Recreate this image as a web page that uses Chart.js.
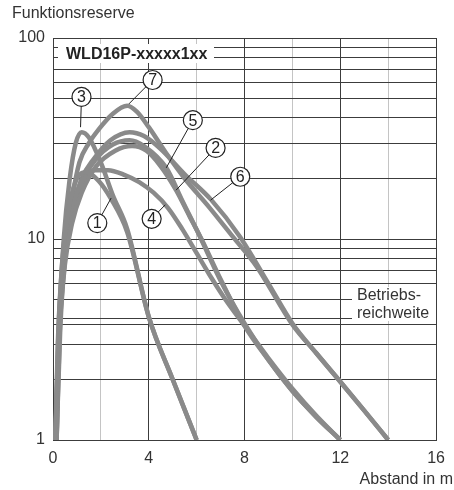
<!DOCTYPE html>
<html>
<head>
<meta charset="utf-8">
<script src="https://cdn.jsdelivr.net/npm/chart.js@4/dist/chart.umd.min.js"></script>
<style>
  html, body { margin: 0; padding: 0; background: #fff; }
  #c { display: block; }
</style>
</head>
<body>
<canvas id="c" width="454" height="490" style="width:454px;height:490px"></canvas>
<script>
// ── Daten : Funktionsreserve über Abstand ──
const xTicks = [0, 2, 4, 6, 8, 10, 12, 14, 16];
const xLabels = [0, 4, 8, 12, 16];
const yGrid = [1, 2, 3, 3.75, 4, 5, 6, 7, 8, 9, 10, 20, 30, 40, 50, 60, 70, 80, 90, 100];
const yLabels = [1, 10, 100];

const curve1X = [0.1, 0.2, 0.4, 0.7, 1.0, 1.4, 1.9, 2.4, 3.1, 4.0, 5.0, 6.0];
const curve1Y = [1, 3, 8, 15, 20, 21.5, 19.5, 16, 10.8, 4.1, 2.0, 1];

const curve2X = [0.1, 0.25, 0.5, 0.8, 1.2, 1.8, 2.6, 3.3, 3.9, 4.5, 5.14, 5.7, 6.2, 7.0, 8.0, 9.0, 10.0, 11.0, 12.0];
const curve2Y = [1, 3.2, 7.5, 12, 17, 23, 27.5, 29, 27.5, 23, 17.5, 13, 10, 6.3, 3.7, 2.5, 1.75, 1.3, 1];

const curve3X = [0.15, 0.25, 0.45, 0.7, 0.95, 1.2, 1.5, 2.0, 2.5, 3.1, 4.0, 5.0, 6.0];
const curve3Y = [1, 3.5, 10, 20, 30, 34, 32, 24, 16.5, 11.2, 4.1, 2.0, 1];

const curve4X = [0.1, 0.25, 0.5, 0.8, 1.2, 1.7, 2.3, 3.0, 3.6, 4.2, 4.8, 5.4, 6.0, 6.6, 7.2, 8.0, 9.0, 10.0, 11.0, 12.0];
const curve4Y = [1, 4, 9, 14, 19, 22, 22, 20.8, 19.2, 17, 14.3, 11.2, 8.5, 6.45, 5.0, 3.7, 2.55, 1.8, 1.32, 1];

const curve5X = [0.1, 0.25, 0.5, 0.8, 1.2, 1.8, 2.5, 3.2, 3.8, 4.73, 5.4, 6.1, 7.0, 8.0, 9.0, 10.0, 11.0, 12.0];
const curve5Y = [1, 3.5, 8, 13, 19, 25, 29.5, 31, 29, 22.6, 15.5, 10.5, 6.2, 3.8, 2.5, 1.75, 1.3, 1];

const curve6X = [0.15, 0.3, 0.5, 0.8, 1.2, 1.7, 2.4, 3.2, 3.8, 4.5, 5.5, 6.6, 7.8, 9.0, 10.0, 11.0, 12.0, 13.0, 14.0];
const curve6Y = [1, 3.5, 8, 14, 20, 25, 31, 34, 32.5, 28, 21, 15.7, 10.3, 6, 3.8, 2.7, 1.95, 1.4, 1];

const curve7X = [0.15, 0.3, 0.5, 0.8, 1.1, 1.5, 1.9, 2.5, 3.1, 3.5, 4.0, 4.7, 5.5, 6.5, 7.5, 8.5, 10.0, 11.0, 12.0, 13.0, 14.0];
const curve7Y = [1, 4, 9, 16, 24, 30, 35, 42, 46, 43, 36, 27, 20, 14.5, 10.3, 7.3, 3.75, 2.7, 1.95, 1.4, 1];

// Beschriftungen ①..⑦ (Kreis + Zielpunkt auf der Kurve, in Daten-Einheiten)
const calloutNames = ['1', '2', '3', '4', '5', '6', '7'];
const calloutX = [1.85, 6.79, 1.19, 4.12, 5.84, 7.82, 4.16];
const calloutY = [12.0, 28.4, 50.9, 12.6, 39.0, 20.4, 61.8];
const targetX = [2.43, 5.14, 1.15, 4.69, 4.73, 6.58, 3.17];
const targetY = [16, 17.5, 36, 14.8, 22.6, 15.6, 47];

const CURVE_COLOR = '#8a8a8a';
const GRID_DARK = '#3c3c3c';
const GRID_LIGHT = '#c4c4c4';
const FONT = "'Liberation Sans', Arial, sans-serif";

function toPoints(xs, ys) {
  return xs.map((x, i) => ({ x: x, y: ys[i] }));
}

const curves = [
  [curve1X, curve1Y], [curve2X, curve2Y], [curve3X, curve3Y], [curve4X, curve4Y],
  [curve5X, curve5Y], [curve6X, curve6Y], [curve7X, curve7Y]
];

// ── Texte, Kästen und Kreisnummern ──
const annotations = {
  id: 'annotations',
  beforeDatasetsDraw(chart) {
    const ctx = chart.ctx;
    ctx.save();
    ctx.fillStyle = '#fff';
    ctx.fillRect(58, 44, 156, 19);
    ctx.fillRect(352, 287, 84, 34);

    ctx.fillStyle = '#222';
    ctx.textBaseline = 'middle';
    ctx.textAlign = 'left';
    ctx.font = 'bold 16px ' + FONT;
    ctx.fillText('WLD16P-xxxxx1xx', 66, 55);

    ctx.fillStyle = '#333';
    ctx.font = '16px ' + FONT;
    ctx.fillText('Betriebs-', 357, 296);
    ctx.fillText('reichweite', 357, 314);
    ctx.restore();
  },
  afterDatasetsDraw(chart) {
    const ctx = chart.ctx;
    const xs = chart.scales.x, ys = chart.scales.y;
    const r = 9.5;
    ctx.save();
    calloutNames.forEach((name, i) => {
      const cx = xs.getPixelForValue(calloutX[i]);
      const cy = ys.getPixelForValue(calloutY[i]);
      const tx = xs.getPixelForValue(targetX[i]);
      const ty = ys.getPixelForValue(targetY[i]);
      const d = Math.hypot(tx - cx, ty - cy);
      ctx.strokeStyle = '#222';
      ctx.lineWidth = 1;
      ctx.beginPath();
      ctx.moveTo(cx + (tx - cx) / d * r, cy + (ty - cy) / d * r);
      ctx.lineTo(tx, ty);
      ctx.stroke();

      ctx.fillStyle = '#fff';
      ctx.lineWidth = 1.2;
      ctx.beginPath();
      ctx.arc(cx, cy, r, 0, Math.PI * 2);
      ctx.fill();
      ctx.stroke();

      ctx.fillStyle = '#222';
      ctx.font = '16px ' + FONT;
      ctx.textAlign = 'center';
      ctx.textBaseline = 'middle';
      ctx.fillText(name, cx, cy + 1);
    });

    // Achsentitel
    ctx.fillStyle = '#333';
    ctx.font = '16px ' + FONT;
    ctx.textAlign = 'left';
    ctx.fillText('Funktionsreserve', 12, 14);
    ctx.textAlign = 'right';
    ctx.fillText('Abstand in m', 453, 480);
    ctx.restore();
  }
};

Chart.defaults.font.family = FONT;
Chart.defaults.font.size = 16;
Chart.defaults.color = '#333';

new Chart(document.getElementById('c'), {
  type: 'line',
  data: {
    datasets: curves.map(([xs, ys], i) => ({
      label: 'Kurve ' + (i + 1),
      data: toPoints(xs, ys),
      borderColor: CURVE_COLOR,
      borderWidth: 4.5,
      pointRadius: 0,
      fill: false,
      cubicInterpolationMode: 'monotone'
    }))
  },
  options: {
    responsive: false,
    animation: false,
    layout: { padding: { top: 38, right: 12, bottom: 0, left: 0 } },
    plugins: { legend: { display: false }, tooltip: { enabled: false } },
    scales: {
      x: {
        type: 'linear',
        min: 0,
        max: 16,
        afterBuildTicks: s => { s.ticks = xTicks.map(v => ({ value: v })); },
        afterFit: s => { s.height = 50; },
        ticks: {
          autoSkip: false,
          maxRotation: 0,
          padding: 9,
          callback: v => xLabels.includes(v) ? String(v) : ''
        },
        grid: {
          drawTicks: false,
          color: c => (c.tick && c.tick.value % 4 === 0) ? GRID_DARK : GRID_LIGHT,
          lineWidth: 1
        },
        border: { display: true, color: GRID_DARK, width: 1 }
      },
      y: {
        type: 'logarithmic',
        min: 1,
        max: 100,
        afterBuildTicks: s => { s.ticks = yGrid.map(v => ({ value: v })); },
        afterFit: s => { s.width = 53; },
        ticks: {
          autoSkip: false,
          padding: 8,
          callback: v => yLabels.includes(v) ? String(v) : ''
        },
        grid: { drawTicks: false, color: GRID_DARK, lineWidth: 1 },
        border: { display: true, color: GRID_DARK, width: 1 }
      }
    }
  },
  plugins: [annotations]
});
</script>
</body>
</html>
